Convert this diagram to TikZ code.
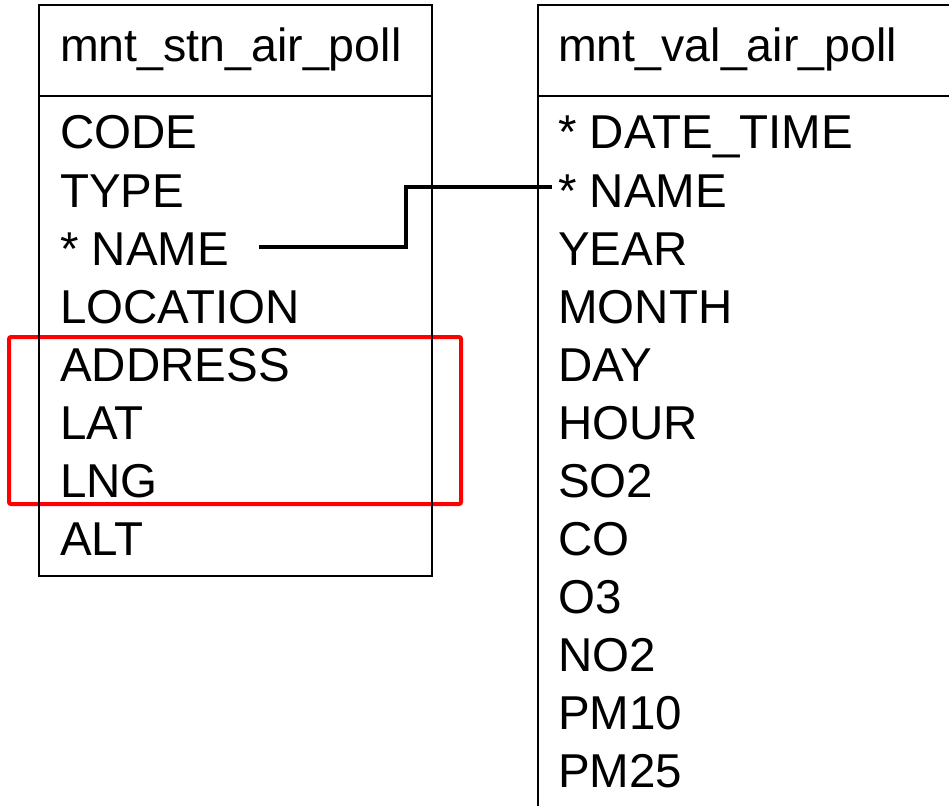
\documentclass[tikz,border=0pt]{standalone}
\usepackage{fontspec}
\setmainfont{Liberation Sans}
\begin{document}
\begin{tikzpicture}[x=1pt,y=-1pt,
  tbl/.style={draw=black,line width=2pt},
  fld/.style={anchor=base west,inner sep=0pt,font=\fontsize{47.5}{58}\selectfont},
  hdr/.style={fld,font=\fontsize{46.5}{58}\selectfont},
  conn/.style={draw=black,line width=3.5pt},
  hilite/.style={draw=red,line width=4pt,rounded corners=2pt}]
\clip (0,0) rectangle (949,805);
\fill[white] (0,0) rectangle (949,805);
% highlight box
\draw[hilite] (9,337) rectangle (461,504);
% left table
\draw[tbl] (38.5,5.5) rectangle (432,576);
\draw[tbl] (38.5,96) -- (432,96);
\node[hdr] (lhead) at (60,62) {mnt\_stn\_air\_poll};
\node[fld] (lcode) at (60,149) {CODE};
\node[fld] (ltype) at (60,207) {TYPE};
\node[fld] (lname) at (60,265) {* NAME};
\node[fld] (lloc) at (60,323) {LOCATION};
\node[fld] (laddr) at (60,381) {ADDRESS};
\node[fld] (llat) at (60,439) {LAT};
\node[fld] (llng) at (60,497) {LNG};
\node[fld] (lalt) at (60,555) {ALT};
% right table
\draw[tbl] (538,830) -- (538,5.5) -- (980,5.5);
\draw[tbl] (538,96) -- (980,96);
\node[hdr] (rhead) at (558,62) {mnt\_val\_air\_poll};
\node[fld] (rdt) at (558,149) {* DATE\_TIME};
\node[fld] (rname) at (558,207) {* NAME};
\node[fld] (ryear) at (558,265) {YEAR};
\node[fld] (rmonth) at (558,323) {MONTH};
\node[fld] (rday) at (558,381) {DAY};
\node[fld] (rhour) at (558,439) {HOUR};
\node[fld] (rso) at (558,497) {SO2};
\node[fld] (rco) at (558,555) {CO};
\node[fld] (ro) at (558,613) {O3};
\node[fld] (rno) at (558,671) {NO2};
\node[fld] (rpmten) at (558,729) {PM10};
\node[fld] (rpmtf) at (558,787) {PM25};
% connector
\coordinate (cs) at (259,247);
\coordinate (cm) at (406,247);
\coordinate (ce) at (552,187);
\draw[conn] (cs) -- (cm) |- (ce);
\end{tikzpicture}
\end{document}
